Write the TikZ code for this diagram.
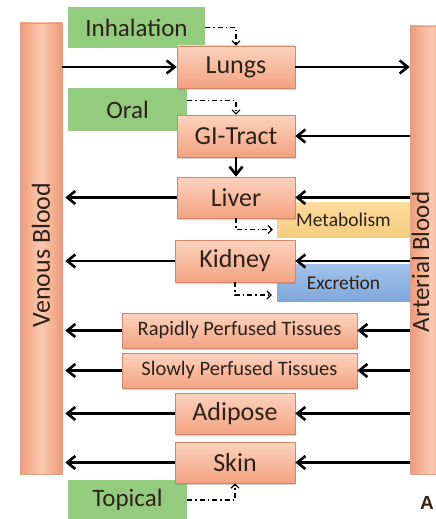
\documentclass[tikz,border=0pt]{standalone}
\usepackage{fontspec}
\setmainfont{Carlito}
\newfontfamily\arialf{Liberation Sans}
\usetikzlibrary{arrows.meta,shadows}
\definecolor{salmonL}{HTML}{FCD3BE}
\definecolor{salmonD}{HTML}{F3A281}
\definecolor{salmonE}{HTML}{D2876A}
\definecolor{barL}{HTML}{FBC9B0}
\definecolor{barD}{HTML}{EE9B78}
\definecolor{greenF}{HTML}{93CB7F}
\definecolor{yellowL}{HTML}{FBDB9C}
\definecolor{yellowD}{HTML}{F6CD80}
\definecolor{blueL}{HTML}{A3C3EA}
\definecolor{blueD}{HTML}{7EA7DA}
\definecolor{txt}{HTML}{2E2118}
\begin{document}
\begin{tikzpicture}[x=1pt,y=-1pt,
  organ/.style={draw=salmonE, line width=0.6pt, top color=salmonL, bottom color=salmonD,
    inner sep=0pt, text=txt, font=\fontsize{26}{28}\selectfont,
    drop shadow={shadow xshift=1.2pt, shadow yshift=-1.5pt, opacity=0.35}},
  tissue/.style={organ, font=\fontsize{20.5}{22}\selectfont},
  route/.style={fill=greenF, inner sep=0pt, text=txt, font=\fontsize{25}{27}\selectfont},
  elim/.style={inner sep=0pt, text=txt, font=\fontsize{19.5}{21}\selectfont},
  bar/.style={draw=salmonE!80, line width=0.5pt, left color=barD, right color=barD, middle color=barL, inner sep=0pt},
  bartext/.style={rotate=90, text=txt, font=\fontsize{26}{28}\selectfont, inner sep=0pt},
  arr/.style={line width=2.6pt, -{Straight Barb[length=8pt,width=13pt]}},
  dd/.style={line width=1.2pt, dash pattern=on 5pt off 3pt on 1.5pt off 3pt, -{Straight Barb[length=4pt,width=8pt]}}
]
\clip (0,0) rectangle (436,519);
\fill[white] (0,0) rectangle (436,519);

% blood bars
\node[bar, minimum width=42pt, minimum height=451pt] (venous) at (41,248.5) {};
\node[bartext] (venoustext) at (41,255) {Venous Blood};
\node[bar, minimum width=42pt, minimum height=448pt] (arterial) at (431,250) {};
\node[bartext, font=\fontsize{25}{27}\selectfont] (arterialtext) at (420.5,262) {Arterial Blood};

% routes & elimination boxes (behind organs)
\node[route, minimum width=137pt, minimum height=41pt] (inh) at (136.5,27.5) {Inhalation};
\node[route, minimum width=119pt, minimum height=43pt] (oral) at (127.5,109.5) {Oral};
\node[route, minimum width=119pt, minimum height=40pt] (top) at (127.5,500) {Topical};
\node[elim, top color=yellowL, bottom color=yellowD, minimum width=133pt, minimum height=35pt] (met) at (343.5,219.5) {Metabolism};
\node[elim, top color=blueL, bottom color=blueD, minimum width=133pt, minimum height=37pt] (exc) at (343.5,282.5) {Excretion};

% organs
\node[organ, minimum width=118pt, minimum height=42pt] (lungs) at (236,67) {Lungs};
\node[organ, minimum width=118pt, minimum height=42pt] (gi) at (236,136) {GI-Tract};
\node[organ, minimum width=118pt, minimum height=41pt] (liver) at (236,197.5) {Liver};
\node[organ, minimum width=120pt, minimum height=42pt] (kidney) at (235,261) {Kidney};
\node[tissue, minimum width=235pt, minimum height=35pt] (rapid) at (239.5,330.5) {Rapidly Perfused Tissues};
\node[tissue, minimum width=235pt, minimum height=35pt] (slow) at (239.5,370.5) {Slowly Perfused Tissues};
\node[organ, minimum width=120pt, minimum height=41pt] (adipose) at (235,413.5) {Adipose};
\node[organ, minimum width=120pt, minimum height=41pt] (skin) at (235,462.5) {Skin};

% blood flow arrows
\draw[arr] (lungs.west -| venous.east) -- (lungs.west);
\draw[arr] (lungs.east) -- (lungs.east -| arterial.west);
\draw[arr] (gi.east -| arterial.west) -- (gi.east);
\draw[arr] (gi.south) -- (liver.north);
\foreach \n in {liver,kidney,rapid,slow,adipose,skin}{
  \draw[arr] (\n.east -| arterial.west) -- (\n.east);
  \draw[arr] (\n.west) -- ([xshift=3pt]\n.west -| venous.east);
}

% dash-dot routes
\draw[dd] (inh.east) -| (lungs.north);
\draw[dd] ([yshift=9pt]oral.east) -| (gi.north);
\draw[dd] (top.east) -| (skin.south);
\draw[dd] (liver.south) |- ([xshift=-4pt,yshift=-10pt]met.west);
\draw[dd] (kidney.south) |- ([xshift=-5pt,yshift=-12.5pt]exc.west);

\node[font=\arialf\bfseries\fontsize{19}{21}\selectfont, text=txt, inner sep=0pt] (lab) at (427,503) {A};
\end{tikzpicture}
\end{document}
